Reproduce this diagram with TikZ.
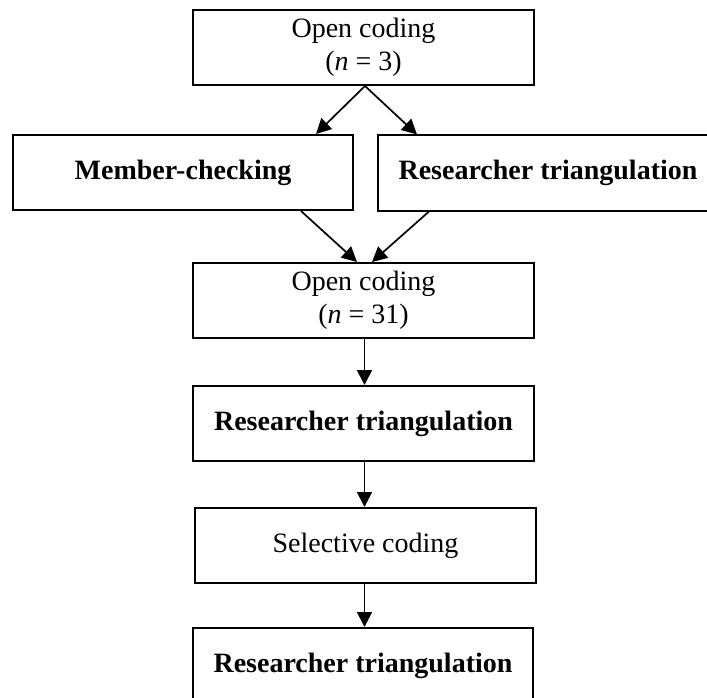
\documentclass[tikz,border=0pt]{standalone}
\usepackage{fontspec}
\setmainfont{Liberation Serif}
\usetikzlibrary{arrows.meta}
\tikzset{
  box/.style={draw=black, line width=2pt, minimum height=75pt, inner sep=0pt, align=center, font=\fontsize{28}{33}\selectfont},
  conn/.style={line width=1.7pt, -{Triangle[length=15pt,width=15pt]}}
}
\begin{document}
\begin{tikzpicture}[x=1pt,y=-1pt]
\useasboundingbox (0,0) rectangle (707,698);
\clip (0,0) rectangle (707,698);
\node[box, minimum width=341pt] (oc1) at (363.5,47.5) {Open coding\\(\textit{n} = 3)};
\node[box, minimum width=340pt] (mc) at (183,172.5) {\textbf{Member-checking}};
\node[box, minimum width=340pt] (rt1) at (548,173) {\textbf{Researcher triangulation}};
\node[box, minimum width=341pt] (oc2) at (363.5,300.5) {Open coding\\(\textit{n} = 31)};
\node[box, minimum width=341pt] (rt2) at (363.5,423.5) {\textbf{Researcher triangulation}};
\node[box, minimum width=341pt] (sc) at (365.5,545.5) {Selective coding};
\node[box, minimum width=340pt] (rt3) at (363,665.5) {\textbf{Researcher triangulation}};
\draw[conn] ([xshift=1.5pt]oc1.south) -- ([xshift=-38pt]mc.north east);
\draw[conn] ([xshift=1.5pt]oc1.south) -- ([xshift=40pt]rt1.north west);
\draw[conn] ([xshift=-53pt]mc.south east) -- ([xshift=-6.5pt]oc2.north);
\draw[conn] ([xshift=52pt]rt1.south west) -- ([xshift=8.5pt]oc2.north);
\draw[conn] ([xshift=1pt]oc2.south) -- ([xshift=1pt]rt2.north);
\draw[conn] ([xshift=1pt]rt2.south) -- ([xshift=-1pt]sc.north);
\draw[conn] ([xshift=-1pt]sc.south) -- ([xshift=1.5pt]rt3.north);
\end{tikzpicture}
\end{document}
